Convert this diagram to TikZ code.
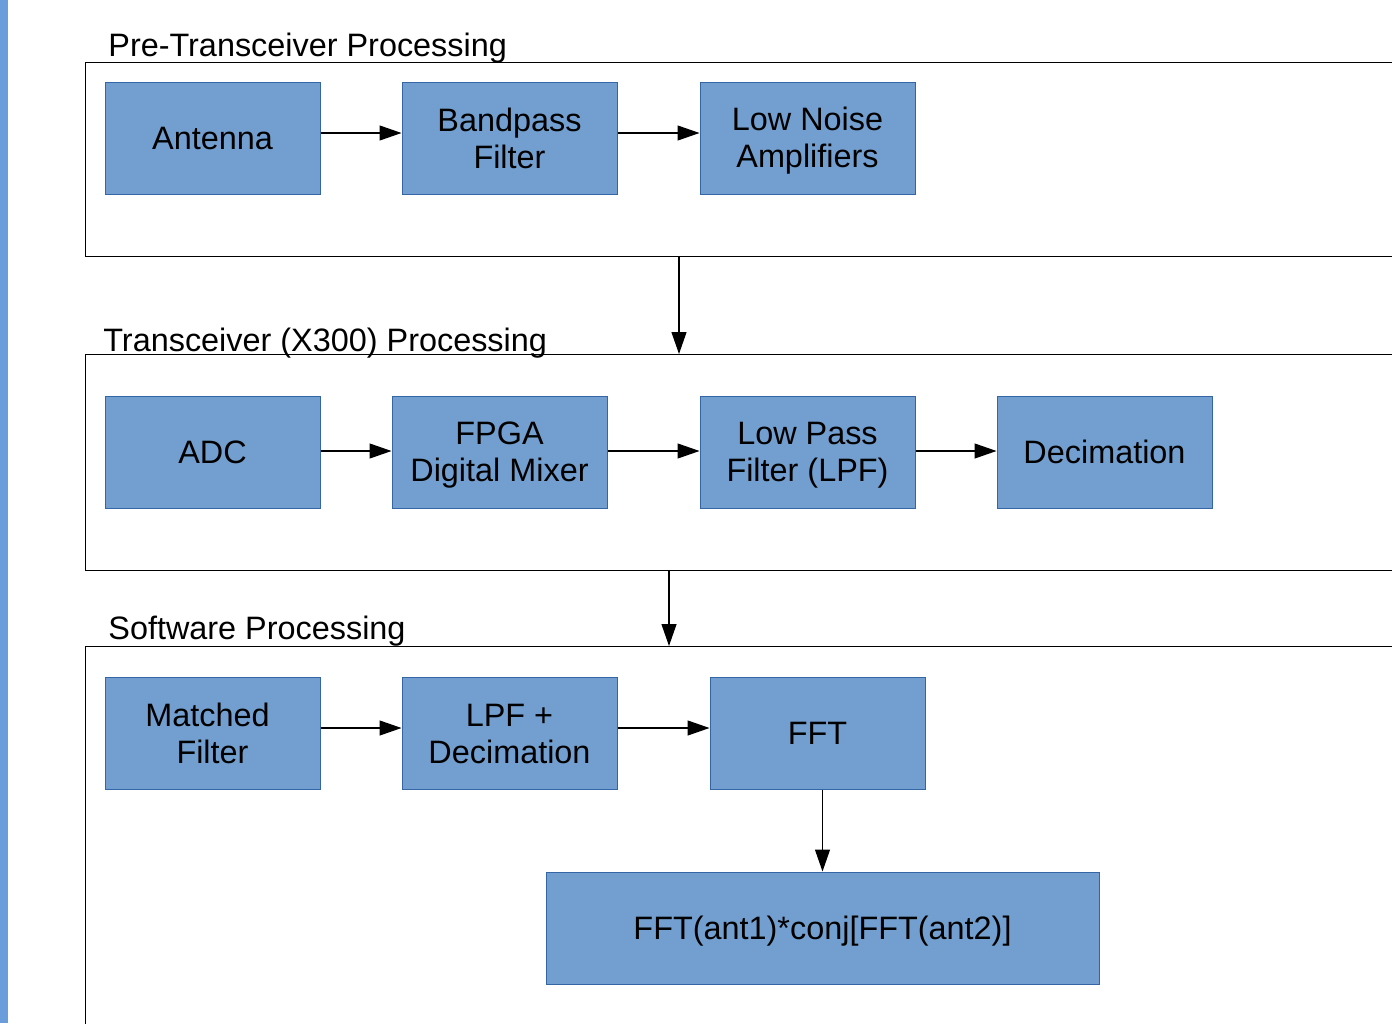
\documentclass[tikz,border=0pt]{standalone}
\usepackage{fontspec}
\setmainfont{Liberation Sans}
\usepackage{tikz}
\usetikzlibrary{arrows.meta}

\definecolor{boxblue}{HTML}{729FCF}
\definecolor{boxedge}{HTML}{3465A4}
\definecolor{barblue}{HTML}{6A9EDA}

% strut that centres the capitals of each line in a block
\newcommand{\bstrut}{\rule[-3pt]{0pt}{17.6pt}}

\tikzset{
	block/.style={draw=boxedge,fill=boxblue,line width=0.5pt,minimum width=107.5pt,minimum height=56pt,
		inner sep=0pt,align=center,font=\fontsize{16.2}{18.5}\selectfont},
	group/.style={draw=black,line width=0.6pt,anchor=north west,minimum width=700pt,inner sep=0pt},
	grouptitle/.style={anchor=base west,inner sep=0pt,font=\fontsize{16.2}{18.5}\selectfont},
	flow/.style={-{Triangle[length=11pt,width=7.5pt]},line width=0.6pt}
}

\begin{document}
\begin{tikzpicture}[x=0.5pt,y=-0.5pt]
	\useasboundingbox (0,0) rectangle (1392,1023);
	\clip (0,0) rectangle (1392,1023);
	
	%side bar
	\fill[barblue] (0,0) rectangle (8,1023);
	
	%group frames
	\node[group,minimum height=97pt] (pre) at (85,62) {};
	\node[group,minimum height=108pt] (trx) at (85,354) {};
	\node[group,minimum height=250pt] (sw) at (85,646) {};
	
	%group titles
	\node[grouptitle] (pretitle) at (108,56)  {Pre-Transceiver Processing};
	\node[grouptitle] (trxtitle) at (103,351) {Transceiver (X300) Processing};
	\node[grouptitle] (swtitle)  at (108,639) {Software Processing};
	
	%blocks
	\node[block] (ant) at (212.5,138) {\bstrut Antenna};
	\node[block] (bpf) at (509.5,138) {\bstrut Bandpass\\\bstrut Filter};
	\node[block] (lna) at (807.5,138) {\bstrut Low Noise\\\bstrut Amplifiers};
	%
	\node[block] (adc)  at (212.5,452)  {\bstrut ADC};
	\node[block] (mix)  at (499.5,452)  {\bstrut FPGA\\\bstrut Digital Mixer};
	\node[block] (lpf)  at (807.5,452)  {\bstrut Low Pass\\\bstrut Filter (LPF)};
	\node[block] (dec)  at (1104.5,452) {\bstrut Decimation};
	%
	\node[block] (mf)   at (212.5,733) {\bstrut Matched\hspace*{5pt}\\\bstrut Filter};
	\node[block] (lpfd) at (509.5,733) {\bstrut LPF +\\\bstrut Decimation};
	\node[block] (fft)  at (817.5,733) {\bstrut FFT};
	\node[block,minimum width=276.5pt] (xcorr) at (822.5,928) {\bstrut FFT(ant1)*conj[FFT(ant2)]};
	
	%arrows
	\draw[flow] ([yshift=2.5pt]ant.east) -- ([yshift=2.5pt]bpf.west);
	\draw[flow] ([yshift=2.5pt]bpf.east) -- ([yshift=2.5pt]lna.west);
	%
	\draw[flow] ([yshift=0.5pt]adc.east) -- ([yshift=0.5pt]mix.west);
	\draw[flow] ([yshift=0.5pt]mix.east) -- ([yshift=0.5pt]lpf.west);
	\draw[flow] ([yshift=0.5pt]lpf.east) -- ([yshift=0.5pt]dec.west);
	%
	\draw[flow] ([yshift=2.5pt]mf.east) -- ([yshift=2.5pt]lpfd.west);
	\draw[flow] ([yshift=2.5pt]lpfd.east) -- ([yshift=2.5pt]fft.west);
	\draw[flow] (fft.south -| xcorr.north) -- (xcorr.north);
	
	%between groups
	\coordinate (d1) at (679,256);
	\coordinate (d2) at (669,570);
	\draw[flow] (d1) -- (d1 |- trx.north);
	\draw[flow] (d2) -- (d2 |- sw.north);
\end{tikzpicture}
\end{document}
